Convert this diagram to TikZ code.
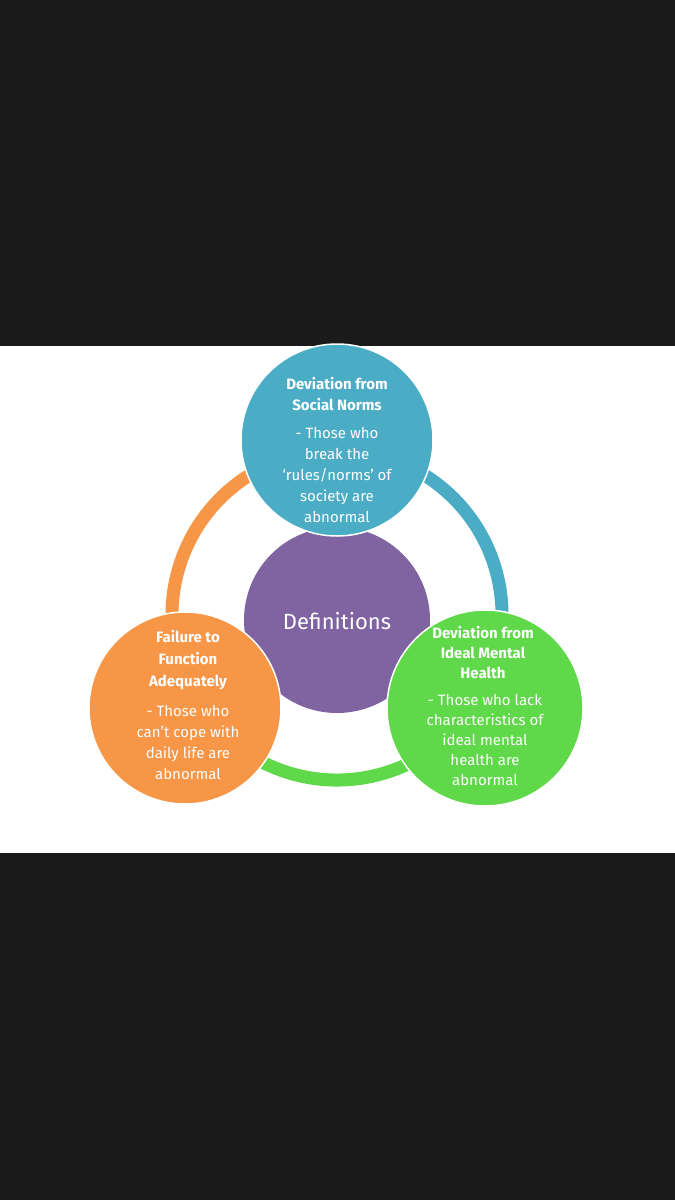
\documentclass[tikz,border=0pt]{standalone}
\usepackage{fontspec}
\setmainfont{Fira Sans}
\definecolor{bg}{HTML}{1A1A1A}
\definecolor{cblue}{HTML}{4BACC6}
\definecolor{corange}{HTML}{F79646}
\definecolor{cgreen}{HTML}{5FD84A}
\definecolor{cpurple}{HTML}{8064A2}
\begin{document}
\begin{tikzpicture}[x=1pt,y=-1pt,
  bub/.style={circle,draw=white,line width=1.5pt,minimum size=#1,inner sep=0pt},
  txt/.style={text=white,align=center,font=\fontsize{14}{17}\selectfont}]
\fill[bg] (0,0) rectangle (675,1200);
\fill[white] (0,346) rectangle (675,853);
\coordinate (c) at (337,615);
\draw[corange,line width=13pt] (c) ++(150:165) arc[start angle=150,end angle=270,radius=165];
\draw[cblue,line width=13pt] (c) ++(-90:165) arc[start angle=-90,end angle=30,radius=165];
\draw[cgreen,line width=13pt] (c) ++(30:165) arc[start angle=30,end angle=150,radius=165];
\node[bub=186pt,fill=cpurple,draw=none] (def) at (337,620) {};
\node[bub=192pt,fill=cblue] (top) at (337,440) {};
\node[bub=192pt,fill=corange] (left) at (185,708) {};
\node[bub=196pt,fill=cgreen] (right) at (485,708) {};
\node[txt,font=\fontsize{22}{25}\selectfont] at (337,621) {Definitions};
\node[txt,font=\bfseries\fontsize{15}{21}\selectfont] at (337,394) {Deviation from\\Social Norms};
\node[txt,font=\fontsize{15}{21}\selectfont] at (337,475) {- Those who\\break the\\‘rules/norms’ of\\society are\\abnormal};
\node[txt,font=\bfseries\fontsize{15}{22}\selectfont] at (188,660) {Failure to\\Function\\Adequately};
\node[txt,font=\fontsize{15}{21}\selectfont] at (188,742) {- Those who\\can’t cope with\\daily life are\\abnormal};
\node[txt,font=\bfseries\fontsize{15}{20}\selectfont] at (483,653) {Deviation from\\Ideal Mental\\Health};
\node[txt,font=\fontsize{15}{20}\selectfont] at (485,740) {- Those who lack\\characteristics of\\ideal mental\\health are\\abnormal};
\end{tikzpicture}
\end{document}
